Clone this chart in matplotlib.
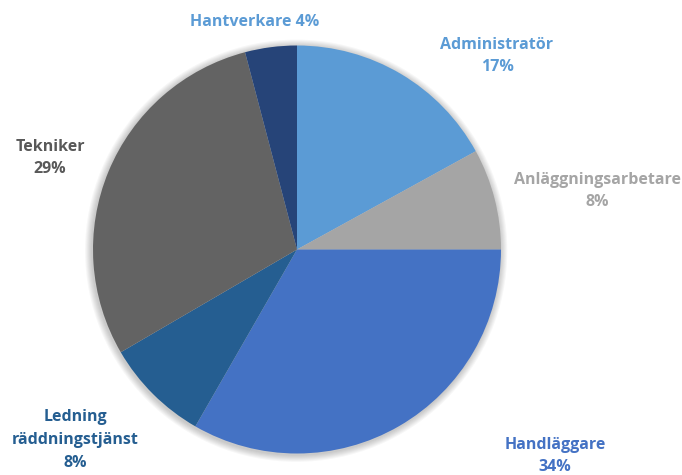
import matplotlib
matplotlib.use("Agg")
import matplotlib.pyplot as plt
from matplotlib.patches import Circle

categories = ["Administratör", "Anläggningsarbetare", "Handläggare",
              "Ledning\nräddningstjänst", "Tekniker", "Hantverkare"]
values = [17.0, 8.0, 33.3, 8.3, 29.3, 4.1]
percent_labels = ["17%", "8%", "34%", "8%", "29%", "4%"]
colors = ["#5B9BD5", "#A5A5A5", "#4472C4", "#255E91", "#636363", "#264478"]
label_colors = ["#5B9BD5", "#A5A5A5", "#4472C4", "#255E91", "#595959", "#5B9BD5"]
label_texts = [f"{c}\n{p}" for c, p in zip(categories, percent_labels)]
label_texts[5] = f"{categories[5]} {percent_labels[5]}"
# label centres in pixel coords (x, y from top)
label_px = [(497, 56), (597, 191), (555, 456), (75, 440), (50, 158), (255, 22)]

W, H = 682, 475
fig = plt.figure(figsize=(W / 100, H / 100), dpi=100)
cx, cy, r = 297, 249.5, 204
pad = 1.04
ax = fig.add_axes([(cx - r * pad) / W, (H - cy - r * pad) / H,
                   2 * r * pad / W, 2 * r * pad / H])

# soft shadow
for i in range(7):
    ax.add_patch(Circle((-0.004, -0.006), 1.0 + 0.005 * (i + 1), color="black",
                        alpha=0.03, lw=0, zorder=0))

ax.pie(values, colors=colors, startangle=90, counterclock=False, radius=1.0,
       wedgeprops=dict(linewidth=0))
ax.set_xlim(-pad, pad)
ax.set_ylim(-pad, pad)
ax.set_aspect("equal")
ax.axis("off")

for txt, col, (px, py) in zip(label_texts, label_colors, label_px):
    fig.text(px / W, 1 - py / H, txt, ha="center", va="center", color=col,
             fontsize=11.5, fontweight="bold", family=["Open Sans", "DejaVu Sans"],
             linespacing=1.55)

fig.savefig("out.png", dpi=100)
